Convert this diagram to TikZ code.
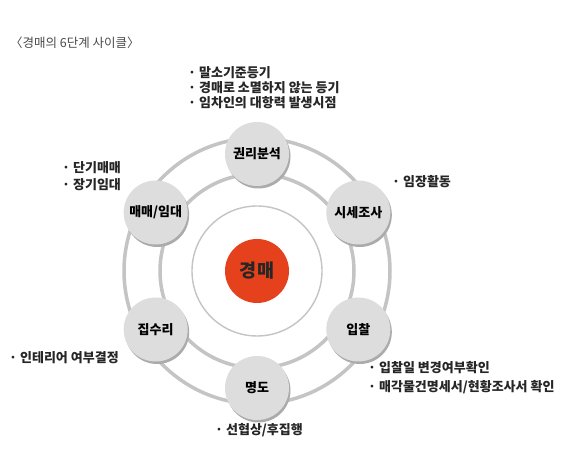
\documentclass[tikz,border=0pt]{standalone}
\usepackage{fontspec}
\usetikzlibrary{calc}
\setmainfont{Noto Sans CJK KR}
\definecolor{ringgray}{HTML}{C4C4C4}
\definecolor{ballgray}{HTML}{DDDDDD}
\definecolor{shadegray}{HTML}{ABABAB}
\definecolor{auctionred}{HTML}{E4411C}
\definecolor{titlegray}{HTML}{4A4A4A}
\tikzset{
  note/.style={right,inner sep=0pt,text=black!85,font=\bfseries\fontsize{13}{15}\selectfont},
  stage/.style={circle,minimum size=64pt,inner sep=0pt,fill=ballgray,font=\bfseries\fontsize{13}{15}\selectfont}
}
\begin{document}
\begin{tikzpicture}[x=1pt,y=1pt]
                    \useasboundingbox (0,0) rectangle (582,476);
                    \fill[white] (0,0) rectangle (582,476);

                    \node[right,inner sep=0pt,text=titlegray,font=\fontsize{12.5}{14}\selectfont] (title) at (10,433) {〈경매의 6단계 사이클〉};

                    \begin{scope}[shift={(257,205)}]
                    \draw[ringgray,line width=3.5pt] (0,0) circle (133);
                    \draw[ringgray,line width=3.5pt] (0,0) circle (97);
                    \draw[ringgray,line width=1.4pt] (0,0) circle (65);
                    \fill[auctionred] (0,0) circle (32);
                    \node[font=\bfseries\fontsize{18.5}{20}\selectfont,text=black!85] (auction) at (0,0) {경매};

                    \foreach \a in {90,30,-30,-90,-150,150}
                        \fill[shadegray] ($(\a:117)+(1.5,-2.5)$) circle (32);

                    \node[stage] (rights) at (90:117) {권리분석};
                    \node[stage] (survey) at (30:117) {시세조사};
                    \node[stage] (bid) at (-30:117) {입찰};
                    \node[stage] (evict) at (-90:117) {명도};
                    \node[stage] (repair) at (-150:117) {집수리};
                    \node[stage] (trade) at (150:117) {매매/임대};
                    \end{scope}

                    \node[note] (rightsa) at (188,403) {· 말소기준등기};
                    \node[note] (rightsb) at (188,388) {· 경매로 소멸하지 않는 등기};
                    \node[note] (rightsc) at (188,373) {· 임차인의 대항력 발생시점};

                    \node[note] (surveya) at (392,294) {· 임장활동};

                    \node[note] (tradea) at (62,308) {· 단기매매};
                    \node[note] (tradeb) at (62,291) {· 장기임대};

                    \node[note] (repaira) at (9,118) {· 인테리어 여부결정};

                    \node[note] (bida) at (368,108) {· 입찰일 변경여부확인};
                    \node[note] (bidb) at (368,89) {· 매각물건명세서/현황조사서 확인};

                    \node[note] (evicta) at (215,46) {· 선협상/후집행};
\end{tikzpicture}
\end{document}
